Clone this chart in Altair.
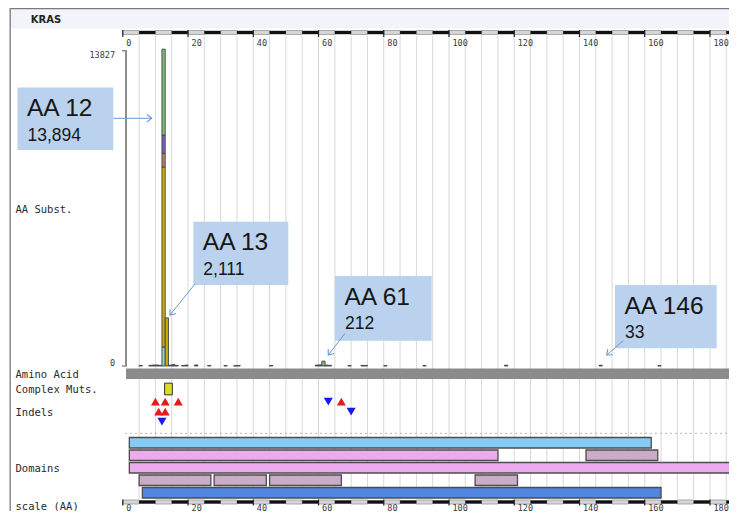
import math
import altair as alt
import pandas as pd

# ============================ DATA ============================
gene_name = "KRAS"
protein_length = 189

scale_ticks = [0, 20, 40, 60, 80, 100, 120, 140, 160, 180]
y_axis_max = 13827

# substitution classes used for stacking the histogram (bottom -> top)
subst_classes = ["class 1", "class 2", "class 3", "class 4", "class 5", "minor"]

aa12_classes = ["class 1", "class 2", "class 3", "class 4", "class 5"]
aa12_counts = [833, 7893, 600, 803, 3765]
aa13_classes = ["class 2"]
aa13_counts = [2111]
aa61_classes = ["class 5"]
aa61_counts = [212]
minor_aa = [5, 8, 9, 10, 11, 14, 15, 16, 18, 19, 22, 26, 31, 34, 35, 45, 59, 60,
            62, 63, 69, 73, 74, 80, 92, 117, 146, 164]
minor_counts = [25, 30, 40, 45, 30, 35, 60, 25, 20, 40, 45, 20, 20, 15, 20, 20, 40, 50,
                40, 30, 20, 25, 25, 20, 20, 35, 33, 20]

callout_aa = [12, 13, 61, 146]
callout_count = [13894, 2111, 212, 33]

complex_aa = [14]

indel_aa = [10, 13, 17, 11, 13, 12, 63, 67, 70]
indel_type = ["ins", "ins", "ins", "ins", "ins", "del", "del", "ins", "del"]
indel_level = [0, 0, 0, 1, 1, 2, 0, 0, 1]

domain_row = [1, 2, 2, 3, 4, 4, 4, 4, 5]
domain_kind = ["superfamily", "family", "region", "family",
               "region", "region", "region", "region", "ras"]
domain_start = [2, 2, 142, 2, 5, 28, 45, 108, 6]
domain_end = [162, 115, 164, 189, 27, 44, 67, 121, 165]

row_labels = ["AA Subst.", "Amino Acid", "Complex Muts.", "Indels", "Domains", "scale (AA)"]

# ============================ STYLE / LAYOUT ============================
W, H = 721, 503
PX0 = 114.8            # pixel of AA 0
PX_PER_AA = 3.262
X_DOM = [-PX0 / PX_PER_AA, (W - PX0) / PX_PER_AA]
Y0_PX = 358.0          # pixel of count 0
K = (358.0 - 42.7) / y_axis_max
Y_DOM = [-(H - Y0_PX) / K, Y0_PX / K]

xscale = alt.Scale(domain=X_DOM, nice=False, zero=False)
yscale = alt.Scale(domain=Y_DOM, nice=False, zero=False)

subst_colors = ["#8fd3c4", "#cdab0c", "#b47c70", "#7b5cc4", "#7cbc7a", "#5e5e5e"]
kind_domain = ["superfamily", "family", "region", "ras"]
kind_colors = ["#86cbf6", "#eeaaee", "#cbabc8", "#5185e0"]

MONO = "DejaVu Sans Mono"
SANS = "Liberation Sans"
ARROW = "#6d98d2"
BOX = "#bad2ed"

row_label_y = [202, 367, 382, 404.7, 461.3, 499]
indel_level_y = [393.7, 403.7, 413.7]
domain_row_top = {1: 429.5, 2: 442, 3: 454.5, 4: 467, 5: 479.5}
DOMAIN_H = 10.5

callout_layout = [
    dict(box=(9.5, 79.5, 105.3, 142), arrow=((105.3, 110.3), (143.7, 110.3))),
    dict(box=(185.3, 213.7, 280.3, 277), arrow=((187, 276), (162, 307))),
    dict(box=(327, 268, 423.7, 332.7), arrow=((337, 325.3), (320.3, 347))),
    dict(box=(607, 277, 708.7, 340.3), arrow=((615.3, 332.7), (598.7, 347))),
]


def one():
    return pd.DataFrame({"k": [0]})


layers = []

# frame + header band
layers.append(alt.Chart(one()).mark_rect(fill="#f3f3fb").encode(
    x=alt.value(3), x2=alt.value(W), y=alt.value(1.3), y2=alt.value(20.5)))
layers.append(alt.Chart(one()).mark_rule(color="#7a7a7a", strokeWidth=1.5).encode(
    x=alt.value(2), x2=alt.value(W), y=alt.value(0.6)))
layers.append(alt.Chart(one()).mark_rule(color="#8a8a8a", strokeWidth=1.5).encode(
    x=alt.value(2.2), y=alt.value(0), y2=alt.value(H)))

# vertical grid lines every 5 AA
grid_df = pd.DataFrame({"g": list(range(5, 190, 5))})
layers.append(alt.Chart(grid_df).mark_rule(color="#d8d8d8", strokeWidth=1).encode(
    x=alt.X("g:Q", scale=xscale, axis=None), y=alt.value(28), y2=alt.value(491)))

# dashed separator
layers.append(alt.Chart(one()).mark_rule(color="#b8b8b8", strokeDash=[2, 3], strokeWidth=1).encode(
    x=alt.value(117), x2=alt.value(W), y=alt.value(425.3)))

# scale bars (top and bottom)
gray_df = pd.DataFrame({"s": list(range(0, 190, 10))})
black_df = pd.DataFrame({"s": list(range(5, 190, 10))})
tick_df = pd.DataFrame({"t": scale_ticks})
for (y0, y1, ly, base, tick_ext) in [(22.5, 26.5, 34.7, "middle", 2.5),
                                     (492, 496, 502.5, "alphabetic", 1.5)]:
    layers.append(alt.Chart(gray_df).transform_calculate(e="datum.s + 5").mark_rect(
        fill="#d6d6d6", stroke="#999999", strokeWidth=0.8).encode(
        x=alt.X("s:Q", scale=xscale, axis=None), x2="e:Q", y=alt.value(y0), y2=alt.value(y1)))
    layers.append(alt.Chart(black_df).transform_calculate(e="datum.s + 5").mark_rect(
        fill="#111111").encode(
        x=alt.X("s:Q", scale=xscale, axis=None), x2="e:Q", y=alt.value(y0 + 0.3), y2=alt.value(y1 - 0.3)))
    layers.append(alt.Chart(tick_df).mark_rule(color="#222222", strokeWidth=1.2).encode(
        x=alt.X("t:Q", scale=xscale, axis=None), y=alt.value(y0 - 0.5), y2=alt.value(y1 + tick_ext)))
    layers.append(alt.Chart(tick_df).mark_text(
        font=MONO, fontSize=8.5, color="#3a3a3a", align="left", baseline=base, dx=3.5).encode(
        x=alt.X("t:Q", scale=xscale, axis=None), y=alt.value(ly), text="t:Q"))

# y axis (counts)
layers.append(alt.Chart(one()).mark_rule(color="#8c8c8c", strokeWidth=2).encode(
    x=alt.value(118), y=alt.YDatum(y_axis_max, type="quantitative", scale=yscale, axis=None),
    y2=alt.Y2Datum(0)))
for v, dy in [(y_axis_max, 4), (0, -3)]:
    layers.append(alt.Chart(one()).mark_rule(color="#8c8c8c", strokeWidth=1.5).encode(
        x=alt.value(114), x2=alt.value(119),
        y=alt.YDatum(v, type="quantitative", scale=yscale, axis=None)))
    layers.append(alt.Chart(one()).mark_text(
        text=str(v), font=MONO, fontSize=8.5, color="#3a3a3a", align="right", baseline="middle", dy=dy).encode(
        x=alt.value(107), y=alt.YDatum(v, type="quantitative", scale=yscale, axis=None)))

# substitution histogram
recs = []
for cls_list, cnts, aa in [(aa12_classes, aa12_counts, 12), (aa13_classes, aa13_counts, 13),
                           (aa61_classes, aa61_counts, 61)]:
    for c, n in zip(cls_list, cnts):
        recs.append({"aa": aa, "cls": c, "count": n, "rank": subst_classes.index(c)})
for aa, n in zip(minor_aa, minor_counts):
    recs.append({"aa": aa, "cls": "minor", "count": n, "rank": subst_classes.index("minor")})
subst_df = pd.DataFrame(recs)

layers.append(alt.Chart(subst_df).transform_stack(
    stack="count", groupby=["aa"], as_=["y0", "y1"],
    sort=[alt.SortField("rank", order="ascending")]).transform_calculate(
    aa_end="datum.aa + 1").mark_rect(stroke="#444444", strokeWidth=0.9).encode(
    x=alt.X("aa:Q", scale=xscale, axis=None), x2="aa_end:Q",
    y=alt.Y("y0:Q", scale=yscale, axis=None), y2="y1:Q",
    color=alt.Color("cls:N", scale=alt.Scale(domain=subst_classes, range=subst_colors), legend=None)))

# amino-acid track
aa_df = pd.DataFrame({"start": [1], "end": [protein_length]})
layers.append(alt.Chart(aa_df).mark_rect(fill="#8b8b8b").encode(
    x=alt.X("start:Q", scale=xscale, axis=None), x2="end:Q", y=alt.value(360.5), y2=alt.value(371)))

# complex mutations
cx_df = pd.DataFrame({"aa": complex_aa})
layers.append(alt.Chart(cx_df).mark_point(
    shape="M-0.66,-1L0.66,-1L0.66,1L-0.66,1Z", size=137, filled=True, fill="#dcdc22",
    stroke="#333333", strokeWidth=1, opacity=1).encode(
    x=alt.X("aa:Q", scale=xscale, axis=None), y=alt.value(381)))

# indels
indel_df = pd.DataFrame({"aa": indel_aa, "type": indel_type, "level": indel_level})
for lvl, ly in enumerate(indel_level_y):
    layers.append(alt.Chart(indel_df).transform_filter(alt.datum.level == lvl).mark_point(
        filled=True, size=82, opacity=1, strokeWidth=0).encode(
        x=alt.X("aa:Q", scale=xscale, axis=None), y=alt.value(ly),
        shape=alt.Shape("type:N", scale=alt.Scale(domain=["ins", "del"],
                                                 range=["triangle-up", "triangle-down"]), legend=None),
        color=alt.Color("type:N", scale=alt.Scale(domain=["ins", "del"],
                                                 range=["#ea1a1a", "#1a1ae6"]), legend=None)))

# domains
dom_df = pd.DataFrame({"row": domain_row, "kind": domain_kind,
                       "start": domain_start, "end": domain_end})
for r, top in domain_row_top.items():
    layers.append(alt.Chart(dom_df).transform_filter(alt.datum.row == r).mark_rect(
        stroke="#4d4d4d", strokeWidth=1.3).encode(
        x=alt.X("start:Q", scale=xscale, axis=None), x2="end:Q",
        y=alt.value(top), y2=alt.value(top + DOMAIN_H),
        color=alt.Color("kind:N", scale=alt.Scale(domain=kind_domain, range=kind_colors), legend=None)))

# left row labels and gene title
for lab, ly in zip(row_labels, row_label_y):
    layers.append(alt.Chart(one()).mark_text(
        text=lab, font=MONO, fontSize=10.5, color="#2a2a2a", align="left", baseline="middle").encode(
        x=alt.value(7.5), y=alt.value(ly)))
layers.append(alt.Chart(one()).mark_text(
    text=gene_name, font="DejaVu Sans", fontWeight="bold", fontSize=10, color="#222222",
    align="left", baseline="middle").encode(x=alt.value(22.7), y=alt.value(12)))

# callouts
for aa, cnt, lay in zip(callout_aa, callout_count, callout_layout):
    x0, y0, x1, y1 = lay["box"]
    (ax0, ay0), (ax1, ay1) = lay["arrow"]
    ang = math.degrees(math.atan2(ay1 - ay0, ax1 - ax0)) % 360
    layers.append(alt.Chart(one()).mark_rect(fill=BOX).encode(
        x=alt.value(x0), x2=alt.value(x1), y=alt.value(y0), y2=alt.value(y1)))
    layers.append(alt.Chart(one()).mark_text(
        text=f"AA {aa}", font=SANS, fontSize=24.5, color="#161616", align="left", baseline="middle").encode(
        x=alt.value(x0 + 9.5), y=alt.value(y0 + 21.5)))
    layers.append(alt.Chart(one()).mark_text(
        text=f"{cnt:,}", font=SANS, fontSize=17.5, color="#161616", align="left", baseline="middle").encode(
        x=alt.value(x0 + 10), y=alt.value(y0 + 48)))
    layers.append(alt.Chart(one()).mark_rule(color=ARROW, strokeWidth=1).encode(
        x=alt.value(ax0), y=alt.value(ay0), x2=alt.value(ax1), y2=alt.value(ay1)))
    layers.append(alt.Chart(one()).mark_point(
        shape="M-1,-0.8L0,0L-1,0.8", size=90, filled=False, stroke=ARROW, strokeWidth=1.1,
        angle=ang, opacity=1).encode(x=alt.value(ax1), y=alt.value(ay1)))

chart = alt.layer(*layers).resolve_scale(color="independent", shape="independent").properties(
    width=W, height=H, padding=0, autosize=alt.AutoSizeParams(type="none"),
    background="white").configure_view(strokeWidth=0)

chart.save("out.html", embed_options={"renderer": "svg", "actions": False})
